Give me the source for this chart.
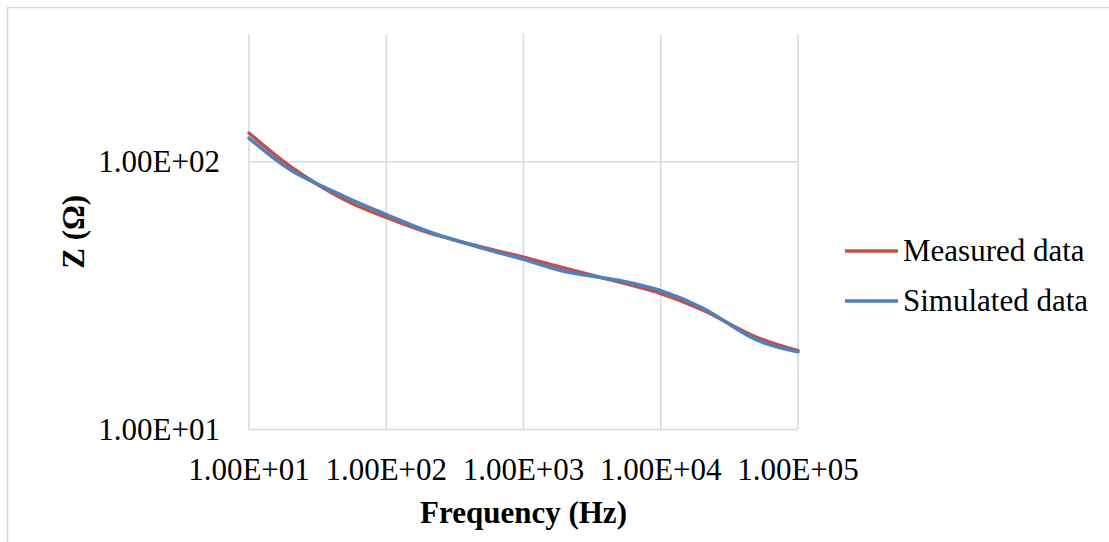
<!DOCTYPE html>
<html>
<head>
<meta charset="utf-8">
<script src="https://cdn.jsdelivr.net/npm/d3@7"></script>
<style>
  body { margin: 0; background: #fff; }
  svg { display: block; }
</style>
</head>
<body>
<script>
// frequency points (Hz)
const frequencies = [10, 20, 50, 100, 200, 500, 1000, 2000, 5000, 10000, 20000, 50000, 100000];
// impedance |Z| (ohm)
const measured = [128, 96, 72, 62, 54.5, 48, 44, 40, 35.5, 32.2, 28.0, 22.1, 19.7];
const simulated = [122.6, 93.3, 74, 63.5, 55, 47.6, 43.2, 38.9, 36.0, 33.0, 28.5, 21.6, 19.5];

const xTicks = [10, 100, 1000, 10000, 100000];
const yTicks = [10, 100];

const seriesNames = ["Measured data", "Simulated data"];
const seriesColors = ["#C0504D", "#4F81BD"];

const w = 1109;
const h = 542;
const plot = { left: 249, right: 798, top: 34, bottom: 429.5 };
const fontSize = 31;
const serif = "'Liberation Serif', 'DejaVu Serif', serif";

const fmt = (v) =>
  v.toExponential(2).toUpperCase().replace(/E([+-])(\d)$/, "E$10$2");

const svg = d3
  .select("body")
  .append("svg")
  .attr("width", w)
  .attr("height", h);

svg.append("rect").attr("width", w).attr("height", h).attr("fill", "#fff");

// chart area border (runs off the right and bottom edges)
svg
  .append("rect")
  .attr("x", 7.5)
  .attr("y", 7.5)
  .attr("width", w + 10)
  .attr("height", h + 10)
  .attr("fill", "none")
  .attr("stroke", "#d9d9d9")
  .attr("stroke-width", 1.5);

const xScale = d3
  .scaleLog()
  .domain([10, 100000])
  .range([plot.left, plot.right]);

const yScale = d3
  .scaleLog()
  .domain([10, 300])
  .range([plot.bottom, plot.top]);

// gridlines
svg
  .append("g")
  .selectAll("line")
  .data(xTicks)
  .enter()
  .append("line")
  .attr("x1", (d) => xScale(d))
  .attr("x2", (d) => xScale(d))
  .attr("y1", plot.top)
  .attr("y2", plot.bottom)
  .attr("stroke", "#d9d9d9")
  .attr("stroke-width", 1.5);

svg
  .append("g")
  .selectAll("line")
  .data(yTicks)
  .enter()
  .append("line")
  .attr("x1", plot.left)
  .attr("x2", plot.right)
  .attr("y1", (d) => yScale(d))
  .attr("y2", (d) => yScale(d))
  .attr("stroke", "#d9d9d9")
  .attr("stroke-width", 1.5);

// tick labels
svg
  .append("g")
  .selectAll("text")
  .data(xTicks)
  .enter()
  .append("text")
  .text(fmt)
  .attr("x", (d) => xScale(d))
  .attr("y", 480)
  .attr("text-anchor", "middle")
  .style("font-family", serif)
  .style("font-size", fontSize + "px");

svg
  .append("g")
  .selectAll("text")
  .data(yTicks)
  .enter()
  .append("text")
  .text(fmt)
  .attr("x", 220)
  .attr("y", (d) => yScale(d) + 10.5)
  .attr("text-anchor", "end")
  .style("font-family", serif)
  .style("font-size", fontSize + "px");

// axis titles
svg
  .append("text")
  .text("Frequency (Hz)")
  .attr("x", (plot.left + plot.right) / 2)
  .attr("y", 523)
  .attr("text-anchor", "middle")
  .style("font-family", serif)
  .style("font-size", fontSize + "px")
  .style("font-weight", "bold");

svg
  .append("text")
  .text("Z (Ω)")
  .attr("transform", `translate(84, ${(plot.top + plot.bottom) / 2}) rotate(-90)`)
  .attr("text-anchor", "middle")
  .style("font-family", serif)
  .style("font-size", fontSize + "px")
  .style("font-weight", "bold");

// series lines
const line = d3
  .line()
  .x((d) => xScale(d[0]))
  .y((d) => yScale(d[1]))
  .curve(d3.curveCatmullRom.alpha(0.5));

[measured, simulated].forEach((values, i) => {
  svg
    .append("path")
    .datum(frequencies.map((f, j) => [f, values[j]]))
    .attr("d", line)
    .attr("fill", "none")
    .attr("stroke", seriesColors[i])
    .attr("stroke-width", 3.5)
    .attr("stroke-linecap", "round");
});

// legend
const legend = svg
  .append("g")
  .selectAll("g")
  .data(seriesNames)
  .enter()
  .append("g")
  .attr("transform", (d, i) => `translate(845, ${251 + i * 50})`);

legend
  .append("line")
  .attr("x1", 0)
  .attr("x2", 53)
  .attr("stroke", (d, i) => seriesColors[i])
  .attr("stroke-width", 3.5);

legend
  .append("text")
  .text((d) => d)
  .attr("x", 58)
  .attr("y", 10)
  .style("font-family", serif)
  .style("font-size", fontSize + "px");
</script>
</body>
</html>
